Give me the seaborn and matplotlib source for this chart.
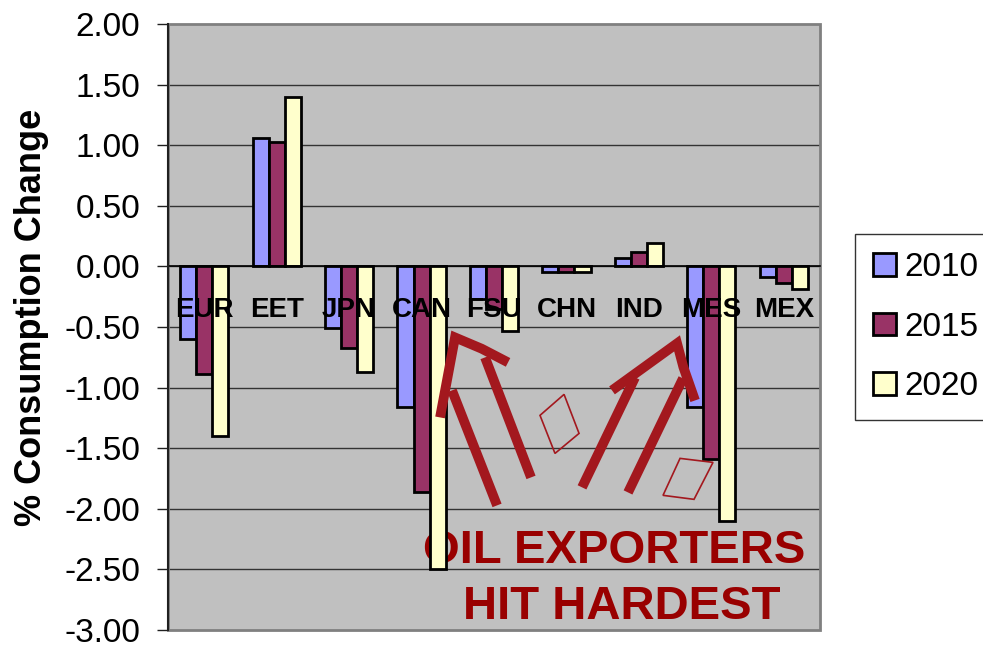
import numpy as np
import pandas as pd
import matplotlib
matplotlib.use("Agg")
import matplotlib.pyplot as plt
import seaborn as sns
from matplotlib.patches import Rectangle, Polygon
from matplotlib.ticker import FormatStrFormatter

# Regional oil consumption change by scenario year
categories = ["EUR", "EET", "JPN", "CAN", "FSU", "CHN", "IND", "MES", "MEX"]
years = ["2010", "2015", "2020"]
change_2010 = [-0.60, 1.06, -0.51, -1.16, -0.27, -0.05, 0.07, -1.16, -0.09]
change_2015 = [-0.89, 1.03, -0.67, -1.86, -0.35, -0.05, 0.12, -1.59, -0.14]
change_2020 = [-1.40, 1.40, -0.87, -2.50, -0.53, -0.05, 0.19, -2.10, -0.19]
bar_colors = ["#9999FF", "#993366", "#FFFFCC"]
y_ticks = [-3.0, -2.5, -2.0, -1.5, -1.0, -0.5, 0.0, 0.5, 1.0, 1.5, 2.0]

df = pd.DataFrame({
    "region": categories * 3,
    "year": [y for y in years for _ in categories],
    "change": change_2010 + change_2015 + change_2020,
})

sns.set_style("white")
plt.rcParams["font.family"] = ["Liberation Sans", "DejaVu Sans"]
plt.rcParams["axes.unicode_minus"] = False
plt.rcParams["text.color"] = "black"
plt.rcParams["xtick.color"] = "black"
plt.rcParams["ytick.color"] = "black"
plt.rcParams["axes.labelcolor"] = "black"

fig = plt.figure(figsize=(9.83, 6.46), dpi=100)
ax = fig.add_axes([168 / 983, 16 / 646, 652 / 983, 606 / 646])

sns.barplot(data=df, x="region", y="change", hue="year", order=categories,
            hue_order=years, palette=bar_colors, saturation=1, width=0.667,
            edgecolor="black", linewidth=2, errorbar=None, ax=ax)
handles, labels = ax.get_legend_handles_labels()
ax.get_legend().remove()

ax.set_facecolor("#C0C0C0")
ax.set_xlim(-0.5, len(categories) - 0.5)
ax.set_ylim(y_ticks[0], y_ticks[-1])
ax.set_yticks(y_ticks)
ax.yaxis.set_major_formatter(FormatStrFormatter("%.2f"))
ax.set_axisbelow(False)

# horizontal gridlines sit behind the bars
for v in y_ticks[1:-1]:
    ax.axhline(v, color="#333333", lw=1.0, zorder=0.6)

# plot-area frame
for side in ("top", "right"):
    ax.spines[side].set_visible(False)
ax.add_patch(Rectangle((0, 0), 1, 1, transform=ax.transAxes, fill=False,
                       ec="#808080", lw=2, zorder=2.4, clip_on=False))
ax.spines["left"].set_color("#202020")
ax.spines["left"].set_linewidth(1.5)
ax.spines["left"].set_zorder(2.6)

# category axis runs along zero
ax.spines["bottom"].set_position(("data", 0))
ax.spines["bottom"].set_color("black")
ax.spines["bottom"].set_linewidth(1.2)
ax.set_xticks(range(len(categories)))
ax.set_xticklabels(categories)
ax.set_xticks(np.arange(len(categories)) + 0.5, minor=True)
ax.tick_params(axis="x", which="major", length=0, pad=22, labelsize=20,
               labelcolor="black")
ax.tick_params(axis="x", which="minor", length=5, width=1, direction="out",
               color="black")
for lbl in ax.get_xticklabels():
    lbl.set_fontweight("bold")

ax.tick_params(axis="y", length=8, width=1, direction="out", pad=12,
               labelsize=24, color="#202020", labelcolor="black", left=True)
ax.set_xlabel("")
ax.set_ylabel("% Consumption Change", fontsize=26, fontweight="bold",
              color="black")
ax.yaxis.set_label_coords(-0.209, 0.516)
ax.yaxis.label.set_va("center")

# hand-drawn callout: arrows pointing at CAN/FSU and MES
arrow_color = "#A3181E"
shafts = [
    [(4.042, -1.972), (3.420, -1.023)],
    [(4.511, -1.741), (3.876, -0.751)],
    [(5.215, -1.823), (5.947, -0.916)],
    [(5.850, -1.865), (6.609, -0.924)],
]
heads = [
    [(3.255, -1.246), (3.462, -0.586), (3.830, -0.679), (4.194, -0.792)],
    [(5.629, -1.023), (6.527, -0.635), (6.614, -0.831), (6.775, -1.106)],
]
for seg in shafts + heads:
    xs, ys = zip(*seg)
    ax.plot(xs, ys, color=arrow_color, lw=7, solid_capstyle="butt",
            solid_joinstyle="miter", zorder=3)

boxes = [
    [(4.635, -1.229), (4.967, -1.056), (5.174, -1.378), (4.842, -1.543)],
    [(6.568, -1.584), (7.023, -1.617), (6.761, -1.922), (6.333, -1.889)],
]
for pts in boxes:
    ax.add_patch(Polygon(pts, closed=True, fill=False, ec=arrow_color,
                         lw=1.2, zorder=3))

ax.text(5.657, -2.450, "OIL EXPORTERS", color="#990000", fontsize=34,
        fontweight="bold", ha="center", va="baseline", zorder=0.8)
ax.text(5.763, -2.913, "HIT HARDEST", color="#990000", fontsize=34,
        fontweight="bold", ha="center", va="baseline", zorder=0.8)

leg = fig.legend(handles, labels, loc="upper left",
                 bbox_to_anchor=(855 / 983, 1 - 234 / 646), fontsize=24,
                 frameon=True, fancybox=False, edgecolor="black",
                 handlelength=0.67, handleheight=0.67, handletextpad=0.25,
                 labelspacing=0.85, borderpad=0.55, borderaxespad=0,
                 labelcolor="black")
leg.get_frame().set_linewidth(1)

fig.savefig("out.png", dpi=100)
